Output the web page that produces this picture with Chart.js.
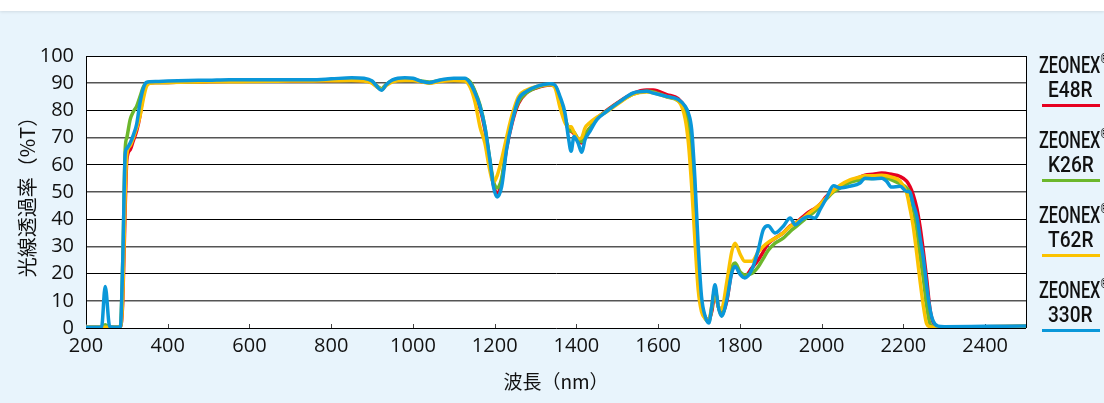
<!DOCTYPE html>
<html><head><meta charset="utf-8">
<script src="https://cdn.jsdelivr.net/npm/chart.js@4.4.1/dist/chart.umd.min.js"></script>
<style>
html,body{margin:0;padding:0;}
body{width:1104px;height:403px;background:#e8f4fc;position:relative;overflow:hidden;font-family:Roboto,sans-serif;}
#topband{position:absolute;left:0;top:0;width:1104px;height:11px;background:#fff;box-shadow:0 1px 3px rgba(0,0,0,0.10);}
#c{position:absolute;left:0;top:0;}
.brand,.grade{position:absolute;white-space:nowrap;line-height:1;color:#111;font-weight:500;transform-origin:0 0;}
.brand sup{font-size:0.55em;vertical-align:top;position:relative;top:-1px;}
.lline{position:absolute;height:3px;}
</style></head>
<body>
<div id="topband"></div>
<canvas id="c" width="1104" height="403"></canvas>
<div id="legend"></div>
<script>
// ---- data ----
const wavelengths = [200,238,247,258,284,290,296,300,308,316,
324,332,340,348,356,370,400,450,500,550,
600,650,700,750,800,850,880,900,912,923,
935,950,980,1000,1020,1040,1066,1100,1127,1140,
1152,1164,1176,1188,1197,1206,1217,1229,1242,1258,
1278,1303,1335,1347,1360,1372,1380,1387,1394,1404,
1413,1421,1433,1450,1474,1507,1539,1572,1588,1621,
1649,1666,1674,1682,1690,1698,1706,1715,1724,1731,
1739,1747,1755,1768,1780,1788,1801,1812,1829,1845,
1857,1869,1886,1906,1923,1935,1951,1967,1984,1996,
2012,2029,2045,2069,2094,2106,2126,2147,2159,2171,
2192,2208,2216,2224,2233,2241,2249,2257,2265,2273,
2285,2300,2400,2500];

const e48r = [0.3,0.3,0.5,0.3,0.3,10,45,62,65.5,69,
72.5,78,86,89.5,90.2,90.3,90.3,90.5,90.6,90.7,
90.8,90.8,90.9,91,91,91.1,91,90.2,88.8,87.8,
89.5,90.8,91.3,91.2,90.6,90.2,90.8,91.2,91.3,90.3,
86.5,81,73,61,52.5,49.5,54,66,75,82.5,
86.5,88.3,89.3,89,84,77,73,72.3,71.5,69,
68,71,73.5,77,80,83.5,86.3,87.5,87.5,85.8,
84.3,81,77,68,48,24,9,4,3,6,
13,8,5,10,21,23,20,19,22,25,
28,31,33,35,37.5,38.5,40.5,42.5,44,45.5,
48.4,50.5,52.1,54,55.5,56.2,56.5,57,56.8,56.5,
55.7,54,52,49,44,37,28,18,7,2,
0.5,0.5,0.5,0.6];

const k26r = [0.3,0.3,1.2,0.3,0.3,25,66,70,76.6,79.6,
81.5,85,88.5,90,90.3,90.3,90.3,90.5,90.7,90.8,
91,91,91.1,91.2,91.3,91.5,91.4,90.6,89,88,
89.6,91,91.6,91.4,90.8,90.4,91,91.4,91.5,90.5,
87,82,74,62,54,51.5,55,67,76,83,
86.5,88.5,89.5,89,84,77.5,73.5,72.5,72,69.5,
68.5,71,73.5,77,79.8,83.3,86,87,86.8,85,
83.5,80,75,65,45,22,8,3.5,2.5,7,
14,8,4.5,12,22,23.9,20.5,19.5,20,22.5,
25.5,28.5,31.2,33,35.5,37,39,41,43,45,
47.5,50,51.5,53.5,54.5,55,55,55.2,55,54.5,
53,51.5,49.6,44,36,26.5,18,8,1.5,0.5,
0.5,0.5,0.5,0.6];

const t62r = [0.3,0.3,0.3,0.3,0.3,12,50,64,67,70,
73.5,77.8,84,88.8,90,90.2,90.3,90.4,90.5,90.5,
90.6,90.7,90.8,90.8,90.9,91,90.8,90,88.6,87.6,
89.2,90.5,91,91,90.5,90,90.6,91,90.8,88.5,
83,74,68,58,53.5,56,62,70,78,85,
87.5,88.8,89.5,88.5,81,75.5,74,74,72,69.5,
70,73.5,75.5,77.5,79.5,83,86,86.8,86.5,85,
83.5,77,68,52,32,14,6,3.5,3,8,
14,8,7,17,28,31.2,27,24.5,24.5,28,
30,31.5,33,35,37.4,38.5,40,42,44,45.5,
48,50.5,52.5,54.5,55.5,56,56,56.2,56,55.5,
54,49.6,44,37.4,27,17,8,1.5,0.5,0.3,
0.3,0.5,0.5,0.6];

const r330 = [0.3,0.3,15.3,0.5,0.3,25,64,66,68,71,
75,82.7,88,90.3,90.5,90.6,90.8,91,91.1,91.3,
91.3,91.3,91.3,91.3,91.6,92,91.8,90.8,88.8,87.4,
89.5,91.2,92,91.8,90.7,90.2,91.2,91.8,91.8,90,
86.4,81.5,74,62,52,48.2,52,65.6,75.4,84,
87,88.8,89.8,89.4,85,79,70.4,65,70.4,68,
64.6,69.2,72.3,76.6,79.6,83.3,86.4,87,86.4,85.1,
84,81.5,79,72.9,54.5,30,11.6,4.3,1.8,7.9,
15.9,7.9,4.3,10.4,20.2,22.6,19.6,18.4,21.4,28.8,
36.1,37.6,34.9,37.4,40.4,38,39.8,41,40.4,43.5,
47.8,52.3,51.5,52.1,53.3,55.1,54.9,55.1,53.9,51.8,
52.1,50.2,50,45.5,41,33,25.5,15.5,7,2.5,
0.7,0.5,0.6,0.7];

const brandName = "ZEONEX";
const gradeNames = ["E48R","K26R","T62R","330R"];
const seriesValues = [e48r, k26r, t62r, r330];
const seriesColors = ["#e60020","#6cb72c","#fbc200","#0a97d9"];
const yTitle = "光線透過率（%T）";
const xTitle = "波長（nm）";

// ---- legend (HTML text) ----
const lg = document.getElementById('legend');
gradeNames.forEach((g,i)=>{
  const off = 75*i;
  const b = document.createElement('div');
  b.className='brand';
  b.innerHTML = brandName + '<sup>®</sup>';
  b.style.fontSize='24px';
  b.style.left='1039px';
  b.style.top=(53+off)+'px';
  b.style.transform='scaleX(0.68)';
  lg.appendChild(b);
  const d = document.createElement('div');
  d.className='grade';
  d.textContent = g;
  d.style.fontSize='22.5px';
  d.style.left='1048px';
  d.style.top=(78+off)+'px';
  d.style.transform='scaleX(0.85)';
  lg.appendChild(d);
  const l = document.createElement('div');
  l.className='lline';
  l.style.left='1042px';
  l.style.width='58px';
  l.style.top=(104+off)+'px';
  l.style.background=seriesColors[i];
  lg.appendChild(l);
});

// ---- plugins ----
const framePlugin = {
  id:'frame',
  beforeDraw(chart){
    const {ctx, chartArea:a} = chart;
    ctx.save();
    ctx.fillStyle='#fff';
    ctx.fillRect(a.left,a.top,a.right-a.left,a.bottom-a.top);
    ctx.restore();
  },
  beforeDatasetsDraw(chart){
    const {ctx, chartArea:a, scales} = chart;
    ctx.save();
    ctx.strokeStyle='#000';
    ctx.lineWidth=1;
    ctx.beginPath();
    const rx = Math.round(a.right)+0.5;
    ctx.moveTo(rx,a.top); ctx.lineTo(rx,a.bottom);
    ctx.stroke();
    ctx.strokeStyle='#444';
    scales.x.ticks.forEach(t=>{
      const px = Math.round(scales.x.getPixelForValue(t.value))+0.5;
      ctx.beginPath();
      ctx.moveTo(px,a.bottom-4); ctx.lineTo(px,a.bottom);
      ctx.stroke();
    });
    ctx.restore();
  }
};

const tickFont = {family:"'Open Sans', 'Noto Sans', sans-serif", size:20, weight:'500'};
const cjkFont = {family:"'Noto Sans CJK JP', sans-serif", size:19};
const cjkFontY = {family:"'Noto Sans CJK JP', sans-serif", size:20};

new Chart(document.getElementById('c'), {
  type:'line',
  data:{
    datasets: gradeNames.map((g,i)=>({
      label: brandName+'® '+g,
      data: wavelengths.map((w,k)=>({x:w, y:seriesValues[i][k]})),
      borderColor: seriesColors[i],
      backgroundColor: seriesColors[i],
      borderWidth: 3.5,
      pointRadius: 0,
      fill: false,
      cubicInterpolationMode: 'monotone',
      order: 4-i
    }))
  },
  options:{
    responsive:false,
    animation:false,
    devicePixelRatio:1,
    layout:{padding:{top:56,right:78,left:0,bottom:0}},
    plugins:{legend:{display:false}, tooltip:{enabled:false}},
    scales:{
      x:{
        type:'linear', min:200, max:2500,
        ticks:{stepSize:200, includeBounds:false, autoSkip:false, maxRotation:0, color:'#111', font:tickFont, padding:6,
               callback:v=>String(v)},
        grid:{display:false, drawTicks:false},
        border:{display:false},
        title:{display:true, text:xTitle, color:'#111', font:cjkFont, padding:{top:0,bottom:10}},
        afterFit(s){ s.height = 75; }
      },
      y:{
        min:0, max:100,
        ticks:{stepSize:10, color:'#111', font:tickFont, padding:12, callback:v=>String(v)},
        grid:{
          drawTicks:false,
          color:c=> (c.tick && c.tick.value%20===0) ? '#000' : '#555',
          lineWidth:c=> (c.tick && c.tick.value%20===0) ? 1 : 1.6
        },
        border:{display:true, color:'#000', width:1},
        title:{display:true, text:yTitle, color:'#111', font:cjkFontY, padding:{top:15,bottom:0}},
        afterFit(s){ s.width = 86; }
      }
    }
  },
  plugins:[framePlugin]
});
</script>
</body></html>
